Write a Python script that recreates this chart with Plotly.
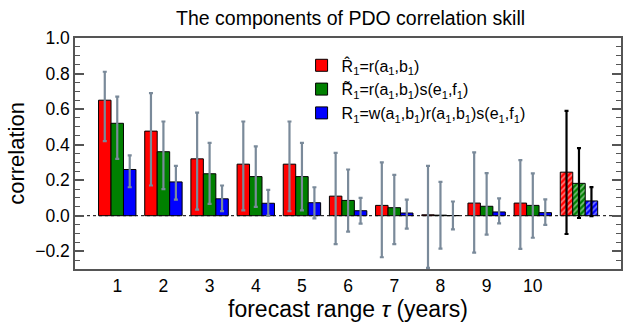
import plotly.graph_objects as go

# Forecast ranges (years) and the extra multi-range group drawn hatched
ranges = [1, 2, 3, 4, 5, 6, 7, 8, 9, 10]
tick_labels = ["1", "2", "3", "4", "5", "6", "7", "8", "9", "10"]
extra_x = 11

# Component skills per forecast range
r_hat = [0.65, 0.476, 0.32, 0.29, 0.29, 0.11, 0.058, 0.005, 0.071, 0.071]
r_tilde = [0.52, 0.36, 0.236, 0.22, 0.22, 0.086, 0.045, 0.003, 0.053, 0.058]
r_full = [0.26, 0.19, 0.095, 0.07, 0.073, 0.028, 0.015, 0.001, 0.021, 0.017]

# Upper / lower ends of the uncertainty ranges
r_hat_hi = [0.81, 0.69, 0.58, 0.53, 0.53, 0.354, 0.30, 0.28, 0.356, 0.313]
r_hat_lo = [0.42, 0.17, 0.034, 0.03, 0.026, -0.16, -0.234, -0.294, -0.208, -0.187]
r_tilde_hi = [0.67, 0.53, 0.41, 0.39, 0.41, 0.26, 0.23, 0.19, 0.24, 0.238]
r_tilde_lo = [0.32, 0.15, 0.066, 0.05, 0.03, -0.09, -0.16, -0.185, -0.107, -0.124]
r_full_hi = [0.34, 0.28, 0.17, 0.145, 0.16, 0.10, 0.09, 0.08, 0.098, 0.092]
r_full_lo = [0.16, 0.09, 0.026, 0.0, -0.015, -0.045, -0.073, -0.077, -0.043, -0.052]

# Extra (hatched) group values and ranges
extra_vals = [0.245, 0.182, 0.083]
extra_hi = [0.59, 0.38, 0.161]
extra_lo = [-0.103, -0.013, -0.002]

names = [
    "R\u0302<sub>1</sub>=r(a<sub>1</sub>,b<sub>1</sub>)",
    "R\u0303<sub>1</sub>=r(a<sub>1</sub>,b<sub>1</sub>)s(e<sub>1</sub>,f<sub>1</sub>)",
    "R<sub>1</sub>=w(a<sub>1</sub>,b<sub>1</sub>)r(a<sub>1</sub>,b<sub>1</sub>)s(e<sub>1</sub>,f<sub>1</sub>)",
]
colors = ["#ff0000", "#008000", "#0000ff"]
FONT = "Liberation Sans, Arial, Helvetica, sans-serif"

fig = go.Figure()

series = [
    (r_hat, r_hat_hi, r_hat_lo),
    (r_tilde, r_tilde_hi, r_tilde_lo),
    (r_full, r_full_hi, r_full_lo),
]

for i, (vals, hi, lo) in enumerate(series):
    fig.add_trace(go.Bar(
        x=ranges, y=vals, name=names[i], offsetgroup=str(i),
        marker=dict(color=colors[i], line=dict(color="black", width=1)),
        error_y=dict(type="data", symmetric=False,
                     array=[h - v for h, v in zip(hi, vals)],
                     arrayminus=[v - l for v, l in zip(vals, lo)],
                     color="#7a8a9a", thickness=2.2, width=2),
    ))

# Hatched bars: coloured fill crossed by thin white diagonal stripes
for i in range(3):
    v = extra_vals[i]
    fig.add_trace(go.Bar(
        x=[extra_x], y=[v], showlegend=False, offsetgroup=str(i),
        marker=dict(color=colors[i], line=dict(color="black", width=1),
                    pattern=dict(shape="/", fillmode="overlay", fgcolor="white",
                                 size=4, solidity=0.4)),
        error_y=dict(type="data", symmetric=False,
                     array=[extra_hi[i] - v], arrayminus=[v - extra_lo[i]],
                     color="black", thickness=2.2, width=2),
    ))

# Dotted zero reference line behind the bars
fig.add_shape(type="line", xref="paper", yref="y", x0=0, x1=1, y0=0, y1=0,
              line=dict(color="black", width=1, dash="dot"), layer="below")

fig.update_layout(
    width=626, height=322,
    margin=dict(l=75, r=3, t=38, b=53),
    paper_bgcolor="white", plot_bgcolor="white",
    barmode="group", bargap=0.19, bargroupgap=0,
    font=dict(family=FONT, color="black", size=17),
    title=dict(text="The components of PDO correlation skill",
               x=0.56, xanchor="center", y=0.945, yanchor="middle",
               font=dict(size=19.5)),
    legend=dict(x=0.415, y=0.955, xanchor="left", yanchor="top",
                bgcolor="rgba(0,0,0,0)", font=dict(size=16),
                tracegroupgap=0, itemwidth=30),
    xaxis=dict(range=[0.085, 11.91], tickmode="array", tickvals=ranges,
               ticktext=tick_labels, ticks="", showline=True, mirror=True,
               linecolor="#555555", linewidth=1.5, showgrid=False,
               zeroline=False, tickfont=dict(size=17.5),
               title=dict(text="forecast range <i>\u03c4</i> (years)",
                          font=dict(size=23), standoff=6)),
    yaxis=dict(range=[-0.3, 1.0], tickmode="linear", tick0=0, dtick=0.2,
               tickformat=".1f", ticks="inside", ticklen=9, tickwidth=1.5,
               tickcolor="#555555", showline=True, mirror="ticks",
               linecolor="#555555", linewidth=1.5, showgrid=False,
               zeroline=False, tickfont=dict(size=17.5),
               minor=dict(dtick=0.05, tick0=0, ticks="inside", ticklen=5,
                          tickwidth=1.2, tickcolor="#555555", showgrid=False),
               title=dict(text="correlation", font=dict(size=22), standoff=4)),
)

fig.write_html("out.html")
